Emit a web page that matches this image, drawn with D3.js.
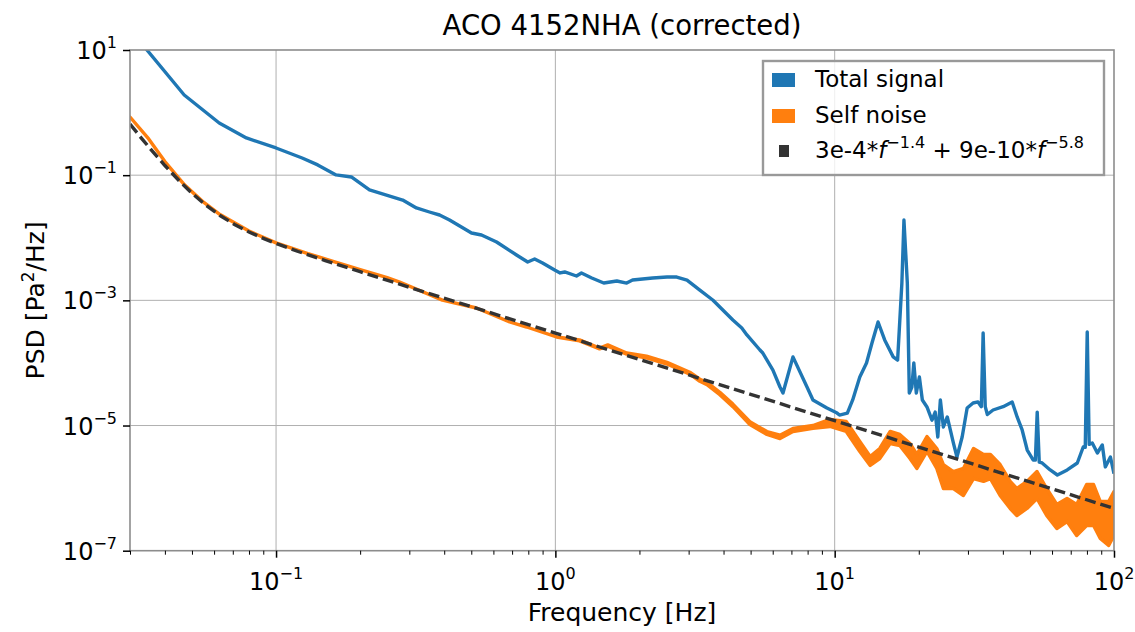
<!DOCTYPE html>
<meta charset="utf-8">
<style>

html, body {
  margin: 0;
  width: 1135px;
  height: 632px;
  background: #fff;
}

svg {
  font-family: "DejaVu Sans", sans-serif;
}

.grid line {
  stroke: #b0b0b0;
  stroke-width: 1px;
}

.ticks line {
  stroke: #000;
}

.ticks path {
  display: none;
}

</style>
<svg id="chart" width="1135" height="632"></svg>
<script src="https://d3js.org/d3.v7.min.js"></script>
<script>

// PSD of the total signal: [frequency Hz, PSD Pa^2/Hz]
var totalSignal = [
  [0.03, 22], [0.0345, 10], [0.0469, 1.91], [0.0626, 0.682], [0.0783, 0.393],
  [0.1, 0.272], [0.124, 0.188], [0.141, 0.146], [0.164, 0.101], [0.186, 0.0936],
  [0.216, 0.058], [0.284, 0.0401], [0.318, 0.0299], [0.354, 0.0258], [0.385, 0.0231],
  [0.418, 0.0192], [0.501, 0.0119], [0.544, 0.01107], [0.616, 0.00855], [0.726, 0.00531],
  [0.796, 0.0041], [0.843, 0.00458], [0.9, 0.00395], [0.994, 0.00305], [1.04, 0.00274],
  [1.08, 0.00284], [1.19, 0.00245], [1.24, 0.00274], [1.35, 0.00228], [1.49, 0.00189],
  [1.66, 0.00204], [1.8, 0.00189], [1.89, 0.00211], [2.23, 0.00228], [2.51, 0.00236],
  [2.72, 0.00236], [2.96, 0.00211], [3.29, 0.00146], [3.66, 0.001013], [4.32, 4.85e-4],
  [4.65, 3.61e-4], [4.85, 2.8e-4], [5.4, 1.61e-4], [5.53, 1.44e-4], [6.01, 7.7e-5],
  [6.37, 4.13e-5], [6.53, 3.31e-5], [7.09, 1.25e-4], [7.96, 4.13e-5], [8.36, 2.56e-5],
  [9.38, 1.9e-5], [10.2, 1.58e-5], [10.4, 1.47e-5], [11.1, 1.58e-5], [11.6, 2.56e-5],
  [12.3, 5.97e-5], [13.0, 9.98e-5], [13.6, 2.08e-4], [14.3, 4.51e-4], [15.1, 2.33e-4],
  [16.2, 1.25e-4], [16.8, 1.11e-4], [17.4, 1.89e-3], [17.7, 0.0192], [18.2, 1.89e-3],
  [18.5, 3.31e-5], [18.9, 4.13e-5], [19.2, 9.98e-5], [19.6, 3.31e-5], [20.1, 5.97e-5],
  [20.6, 2.56e-5], [21.4, 1.98e-5], [22.3, 1.22e-5], [22.9, 1.64e-5], [23.4, 6.56e-6],
  [23.9, 2.56e-5], [24.5, 9.48e-6], [25.3, 1.37e-5], [26.6, 5.26e-6], [27.4, 3.14e-6],
  [28.6, 6.56e-6], [29.8, 1.9e-5], [31.3, 2.29e-5], [32.6, 2.38e-5], [33.5, 2.0e-5],
  [34.0, 3.01e-4], [34.6, 2.0e-5], [35.2, 1.5e-5], [36.9, 1.77e-5], [40.1, 2.0e-5],
  [43.2, 2.38e-5], [45.0, 1.37e-5], [46.9, 8.49e-6], [48.9, 4.06e-6], [51.4, 2.81e-6],
  [52.3, 2.8e-6], [53.1, 1.64e-5], [54.0, 2.6e-6], [55.3, 2.52e-6], [59.1, 1.95e-6],
  [62.7, 1.62e-6], [68.0, 1.95e-6], [73.9, 2.52e-6], [77.6, 4.54e-6], [78.9, 4.5e-6],
  [80.2, 3.12e-4], [81.5, 5.0e-6], [83.6, 5.26e-6], [87.2, 3.64e-6], [90.8, 4.89e-6],
  [93.1, 2.18e-6], [97.1, 3.14e-6], [100, 1.7e-6]
];

// self noise: [frequency Hz, upper PSD, lower PSD] (spread of the noisy trace)
var selfNoise = [
  [0.03, 0.85, 0.85], [0.035, 0.38, 0.38], [0.04, 0.165, 0.165], [0.047, 0.07, 0.07],
  [0.055, 0.037, 0.037], [0.063, 0.0235, 0.0235], [0.08, 0.0128, 0.0128], [0.1, 0.0083, 0.0083],
  [0.13, 0.0056, 0.0056], [0.16, 0.0042, 0.0042], [0.2, 0.0031, 0.0031], [0.25, 0.0023, 0.0023],
  [0.277, 0.00196, 0.00196], [0.394, 0.00101, 0.00101], [0.522, 7.55e-4, 7.55e-4],
  [0.686, 4.51e-4, 4.51e-4], [0.789, 3.75e-4, 3.75e-4], [1.01, 2.6e-4, 2.6e-4],
  [1.22, 2.33e-4, 2.25e-4], [1.44, 1.73e-4, 1.68e-4], [1.54, 1.94e-4, 1.85e-4],
  [1.8, 1.44e-4, 1.38e-4], [2.12, 1.28e-4, 1.2e-4], [2.51, 1.02e-4, 9.6e-5],
  [3.03, 7.1e-5, 6.6e-5], [3.29, 5.5e-5, 5.1e-5], [3.49, 4.9e-5, 4.5e-5],
  [3.88, 3.4e-5, 3.1e-5], [4.32, 2.2e-5, 2.0e-5], [4.97, 1.15e-5, 1.04e-5],
  [5.72, 8.0e-6, 7.2e-6], [6.37, 7.0e-6, 6.2e-6], [7.09, 9.0e-6, 8.0e-6],
  [8.36, 1.0e-5, 9.0e-6], [9.62, 1.25e-5, 9.65e-6], [11.0, 1.16e-5, 8.03e-6],
  [12.3, 5.56e-6, 3.85e-6], [13.4, 3.2e-6, 2.3e-6], [14.5, 4.3e-6, 2.97e-6],
  [15.8, 8.03e-6, 5.16e-6], [17.1, 7.19e-6, 4.8e-6], [18.6, 5.16e-6, 2.97e-6],
  [19.7, 3.45e-6, 2.06e-6], [21.4, 6.68e-6, 3.85e-6], [23.2, 4.3e-6, 2.06e-6],
  [24.5, 2.38e-6, 9.86e-7], [26.6, 1.84e-6, 9.86e-7], [28.9, 2.06e-6, 7.62e-7],
  [31.4, 4.3e-6, 1.42e-6], [34.1, 3.45e-6, 1.28e-6], [36.1, 3.45e-6, 1.42e-6],
  [39.1, 2.38e-6, 7.62e-7], [42.5, 1.28e-6, 4.73e-7], [44.9, 9.86e-7, 3.65e-7],
  [48.8, 1.28e-6, 4.73e-7], [53.0, 1.84e-6, 6.83e-7], [57.4, 9.86e-7, 3.65e-7],
  [62.4, 5.48e-7, 2.26e-7], [67.9, 6.83e-7, 2.93e-7], [73.5, 5.48e-7, 1.75e-7],
  [79.8, 1.14e-6, 2.53e-7], [84.5, 1.14e-6, 2.53e-7], [89.3, 6.11e-7, 1.57e-7],
  [95.7, 6.11e-7, 1.21e-7], [100, 8.84e-7, 1.75e-7]
];

// fitted model 3e-4*f^-1.4 + 9e-10*f^-5.8
var fitA = 3e-4, fitAlpha = -1.4;
var fitB = 9e-10, fitBeta = -5.8;
var fitFreqs = [0.03, 0.033, 0.036, 0.04, 0.045, 0.05, 0.056, 0.063, 0.071, 0.08, 0.09,
  0.1, 0.12, 0.15, 0.2, 0.3, 0.5, 1, 2, 5, 10, 20, 50, 100];

var xMajor = [0.1, 1, 10, 100];
var xMajorExp = ['\u22121', '0', '1', '2'];
var xMinor = [0.03, 0.04, 0.05, 0.06, 0.07, 0.08, 0.09,
  0.2, 0.3, 0.4, 0.5, 0.6, 0.7, 0.8, 0.9,
  2, 3, 4, 5, 6, 7, 8, 9,
  20, 30, 40, 50, 60, 70, 80, 90];
var yMajor = [10, 0.1, 1e-3, 1e-5, 1e-7];
var yMajorExp = ['1', '\u22121', '\u22123', '\u22125', '\u22127'];

var legendItems = ['Total signal', 'Self noise'];

var plotLeft = 130, plotRight = 1114, plotTop = 50, plotBottom = 550.7;

var svg = d3.select('#chart');

var x = d3.scaleLog().domain([0.03, 100]).range([plotLeft, plotRight]);
var y = d3.scaleLog().domain([1e-7, 10]).range([plotBottom, plotTop]);

svg.append('defs').append('clipPath')
    .attr('id', 'plot-clip')
  .append('rect')
    .attr('x', plotLeft)
    .attr('y', plotTop)
    .attr('width', plotRight - plotLeft)
    .attr('height', plotBottom - plotTop);

// grid
var grid = svg.append('g').attr('class', 'grid');
grid.selectAll('line.gx')
    .data(xMajor.slice(0, 3))
  .enter().append('line')
    .attr('x1', function (d) { return x(d); })
    .attr('x2', function (d) { return x(d); })
    .attr('y1', plotTop)
    .attr('y2', plotBottom);
grid.selectAll('line.gy')
    .data(yMajor.slice(1, 4))
  .enter().append('line')
    .attr('x1', plotLeft)
    .attr('x2', plotRight)
    .attr('y1', function (d) { return y(d); })
    .attr('y2', function (d) { return y(d); });

// series
var plot = svg.append('g').attr('clip-path', 'url(#plot-clip)');

var line = d3.line()
    .x(function (d) { return x(d[0]); })
    .y(function (d) { return y(d[1]); });

var band = d3.area()
    .x(function (d) { return x(d[0]); })
    .y0(function (d) { return y(d[2]); })
    .y1(function (d) { return y(d[1]); });

plot.append('path')
    .attr('d', line(totalSignal))
    .attr('fill', 'none')
    .attr('stroke', '#1f77b4')
    .attr('stroke-width', 3.4)
    .attr('stroke-linejoin', 'round');

plot.append('path')
    .attr('d', band(selfNoise))
    .attr('fill', '#ff7f0e')
    .attr('stroke', '#ff7f0e')
    .attr('stroke-width', 3.4)
    .attr('stroke-linejoin', 'round');

var fitData = fitFreqs.map(function (f) {
  return [f, fitA * Math.pow(f, fitAlpha) + fitB * Math.pow(f, fitBeta)];
});

plot.append('path')
    .attr('d', line(fitData))
    .attr('fill', 'none')
    .attr('stroke', '#333')
    .attr('stroke-width', 3.4)
    .attr('stroke-dasharray', '11,5');

// frame
svg.append('rect')
    .attr('x', plotLeft)
    .attr('y', plotTop)
    .attr('width', plotRight - plotLeft)
    .attr('height', plotBottom - plotTop)
    .attr('fill', 'none')
    .attr('stroke', '#8c8c8c')
    .attr('stroke-width', 1.6);

// ticks
svg.append('g')
    .attr('class', 'ticks')
    .attr('transform', 'translate(0,' + plotBottom + ')')
    .call(d3.axisBottom(x).tickValues(xMinor).tickSize(4).tickFormat(''))
    .selectAll('line').attr('stroke-width', 1);

svg.append('g')
    .attr('class', 'ticks')
    .attr('transform', 'translate(0,' + plotBottom + ')')
    .call(d3.axisBottom(x).tickValues(xMajor).tickSize(7).tickFormat(''))
    .selectAll('line').attr('stroke-width', 1.5);

svg.append('g')
    .attr('class', 'ticks')
    .attr('transform', 'translate(' + plotLeft + ',0)')
    .call(d3.axisLeft(y).tickValues(yMajor).tickSize(7).tickFormat(''))
    .selectAll('line').attr('stroke-width', 1.5);

function powerLabel(sel, exps) {
  sel.append('tspan').text('10');
  sel.append('tspan')
      .attr('dy', -11)
      .attr('font-size', 16)
      .text(function (d, i) { return exps[i]; });
}

svg.append('g').selectAll('text')
    .data(xMajor)
  .enter().append('text')
    .attr('x', function (d) { return x(d); })
    .attr('y', 590)
    .attr('text-anchor', 'middle')
    .attr('font-size', 24)
    .call(powerLabel, xMajorExp);

svg.append('g').selectAll('text')
    .data(yMajor)
  .enter().append('text')
    .attr('x', 117)
    .attr('y', function (d) { return y(d) + 9; })
    .attr('text-anchor', 'end')
    .attr('font-size', 24)
    .call(powerLabel, yMajorExp);

// titles
svg.append('text')
    .attr('x', (plotLeft + plotRight) / 2)
    .attr('y', 35)
    .attr('text-anchor', 'middle')
    .attr('font-size', 27.5)
    .text('ACO 4152NHA (corrected)');

svg.append('text')
    .attr('x', (plotLeft + plotRight) / 2)
    .attr('y', 621)
    .attr('text-anchor', 'middle')
    .attr('font-size', 25)
    .text('Frequency [Hz]');

var yTitle = svg.append('text')
    .attr('transform', 'translate(44,' + ((plotTop + plotBottom) / 2) + ') rotate(-90)')
    .attr('text-anchor', 'middle')
    .attr('font-size', 25);
yTitle.append('tspan').text('PSD [Pa');
yTitle.append('tspan').attr('dy', -10).attr('font-size', 17).text('2');
yTitle.append('tspan').attr('dy', 10).text('/Hz]');

// legend
var legend = svg.append('g');

legend.append('rect')
    .attr('x', 763)
    .attr('y', 61)
    .attr('width', 341)
    .attr('height', 114)
    .attr('fill', '#fff')
    .attr('fill-opacity', 0.8)
    .attr('stroke', '#999')
    .attr('stroke-width', 2.4);

var colors = ['#1f77b4', '#ff7f0e'];

legendItems.forEach(function (name, i) {
  legend.append('rect')
      .attr('x', 772)
      .attr('y', 73 + i * 36)
      .attr('width', 23)
      .attr('height', 14)
      .attr('fill', colors[i]);
  legend.append('text')
      .attr('x', 815)
      .attr('y', 87 + i * 36)
      .attr('font-size', 23)
      .text(name);
});

legend.append('rect')
    .attr('x', 779)
    .attr('y', 145)
    .attr('width', 10)
    .attr('height', 12)
    .attr('fill', '#333');

var fitLabel = legend.append('text')
    .attr('x', 815)
    .attr('y', 158)
    .attr('font-size', 23);
fitLabel.append('tspan').text('3e-4*');
fitLabel.append('tspan').attr('font-style', 'italic').text('f');
fitLabel.append('tspan').attr('dy', -10).attr('font-size', 16).text('\u22121.4');
fitLabel.append('tspan').attr('dy', 10).text(' + 9e-10*');
fitLabel.append('tspan').attr('font-style', 'italic').text('f');
fitLabel.append('tspan').attr('dy', -10).attr('font-size', 16).text('\u22125.8');

</script>
